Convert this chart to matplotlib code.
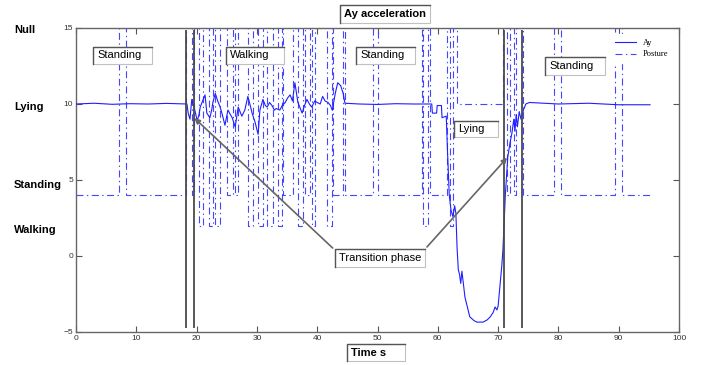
import matplotlib
matplotlib.use("Agg")
import matplotlib.pyplot as plt
from matplotlib.patches import Rectangle
from matplotlib.lines import Line2D

plt.rcParams['font.family'] = 'Liberation Sans'
plt.rcParams['lines.scale_dashes'] = False

# Ay acceleration signal (time s, value)
ay_t = [0, 3, 6, 9, 12, 15, 18.0, 18.4, 18.6, 18.9, 19.2, 19.5, 19.7, 20.1, 20.4,
        20.6, 21.1, 21.4, 21.7, 22.2, 22.5, 22.7, 23.1, 23.5, 23.9, 24.2, 24.7,
        25.2, 25.6, 25.9, 26.4, 26.9, 27.2, 27.5, 28.0, 28.5, 28.9, 29.2, 29.7,
        30.2, 30.5, 31.0, 31.4, 31.7, 32.1, 32.5, 32.9, 33.2, 33.8, 34.2, 34.7,
        35.1, 35.5, 35.9, 36.3, 36.8, 37.1, 37.5, 37.9, 38.3, 38.7, 39.1, 39.6,
        40.0, 40.5, 40.9, 41.3, 41.8, 42.2, 42.5, 43.0, 43.4, 43.9, 44.3, 44.6,
        47, 50, 53, 56, 59.0, 59.1, 59.8, 59.9, 60.6, 60.7, 61.4, 61.6, 61.9,
        62.2, 62.5, 62.8, 63.0, 63.2, 63.4, 63.6, 63.8, 64.0, 64.2, 64.5, 65.3,
        66.0, 66.5, 67.5, 68.2, 68.7, 69.2, 69.5, 69.8, 70.0, 70.3, 70.6, 70.8,
        71.2, 71.6, 72.0, 72.3, 72.6, 72.8, 73.0, 73.2, 73.5, 73.8, 74.2, 74.6,
        75.2, 80, 85, 90, 95.2]
ay_v = [10.0, 10.05, 9.98, 10.02, 10.0, 10.04, 10.0, 10.0, 9.4, 9.0, 10.3, 9.9,
        9.6, 8.9, 9.3, 9.8, 10.3, 10.6, 9.4, 9.1, 9.6, 10.1, 10.7, 10.2, 9.8,
        9.4, 8.6, 9.6, 9.3, 9.1, 8.5, 9.8, 9.5, 9.2, 9.6, 10.5, 9.9, 9.4, 8.8,
        8.0, 9.6, 10.3, 9.9, 9.8, 10.1, 9.9, 9.6, 9.7, 9.6, 9.9, 10.1, 10.4,
        10.6, 10.2, 11.4, 10.1, 9.8, 9.4, 9.9, 10.3, 10.0, 9.8, 10.2, 10.1,
        10.0, 10.5, 10.2, 10.1, 9.9, 9.6, 10.7, 11.4, 11.2, 10.7, 10.05,
        10.0, 9.97, 10.02, 10.0, 10.0, 9.4, 9.4, 9.9, 9.9, 9.1, 9.2, 7.0, 4.0,
        3.0, 2.6, 3.3, 2.8, 0.5, -0.9, -1.2, -1.8, -1.0, -1.7, -2.7, -4.0,
        -4.25, -4.35, -4.35, -4.2, -4.0, -3.7, -3.35, -3.55, -3.3, -2.0, -0.7,
        0.4, 4.0, 6.5, 7.5, 8.1, 9.0, 8.2, 9.3, 8.5, 9.5, 9.0, 9.6, 10.0,
        10.1, 10.0, 10.05, 9.95, 9.95]

# Posture state (step changes): 15 Null, 10 Lying, 4 Standing, 2 Walking
posture_t = [0, 7.1, 8.3, 18.2, 19.2, 19.6, 20.4, 21.1, 22.1, 22.7,
             23.1, 23.9, 25.0, 26.0, 26.4, 26.9, 28.5, 29.4, 30.2, 31.0,
             31.7, 32.7, 33.5, 34.2, 34.4, 36.0, 36.8, 37.6, 38.0, 38.8,
             39.1, 39.6, 41.6, 42.5, 42.6, 44.3, 44.6, 49.2, 50.0, 57.4,
             57.6, 58.4, 58.7, 61.5, 62.0, 62.5, 63.2, 70.8, 71.5, 71.9,
             72.6, 73.0, 74.1, 79.2, 80.5, 89.4, 90.5, 95.3]
posture_v = [4, 15, 4, 15, 4, 15, 2, 15, 2, 15,
             2, 15, 4, 15, 4, 15, 2, 15, 2, 15,
             2, 15, 2, 15, 4, 15, 2, 15, 4, 15,
             2, 15, 2, 15, 4, 15, 4, 15, 4, 15,
             2, 15, 4, 15, 2, 15, 10, 15, 4, 15,
             4, 15, 4, 15, 4, 15, 4, 4]

# transition markers
trans_x = [18.2, 19.6, 71.0, 74.0]

state_names = ['Null', 'Lying', 'Standing', 'Walking']
state_label_y = [14.9, 9.8, 4.7, 1.7]

W, H = 705, 365
fig = plt.figure(figsize=(W / 100, H / 100), dpi=100)
ax = fig.add_axes([76 / W, 1 - 332 / H, (679 - 76) / W, (332 - 28) / H])

ax.step(posture_t, posture_v, where='post', color='#4545ff', lw=0.8,
        dashes=(5, 2.5, 1, 2.5), label='Posture', zorder=2)
ax.plot(ay_t, ay_v, color='#1f1fff', lw=0.8, label='Ay', zorder=3)
ax.vlines(trans_x, -4.74, 14.87, color='#4a4a4a', lw=1.3, zorder=4)

ax.set_xlim(0, 100)
ax.set_ylim(-5, 15)
ax.set_xticks(range(0, 101, 10))
ax.set_yticks([-5, 0, 5, 10, 15])
ax.tick_params(direction='in', length=4, width=0.8, color='#555555',
               labelsize=6, labelcolor='#333333', top=True, right=True, pad=2)
for s in ax.spines.values():
    s.set_color('#666666')
    s.set_linewidth(1)

h, l = ax.get_legend_handles_labels()
leg = ax.legend([h[1], h[0]], [l[1], l[0]], loc='upper right',
                bbox_to_anchor=(0.998, 0.995), frameon=True, framealpha=1,
                edgecolor='white', prop={'family': 'Liberation Serif', 'size': 6},
                handlelength=2.6, borderpad=0.6, labelspacing=0.45)
leg.set_zorder(5)

# state names on the left
for name, yv in zip(state_names, state_label_y):
    ax.text(-0.103, yv, name, transform=ax.get_yaxis_transform(),
            fontsize=8, fontweight='bold', ha='left', va='center')


def box(x0, y0, x1, y1, text, bold=False, fs=8):
    rect = Rectangle((x0 / W, 1 - y1 / H), (x1 - x0) / W, (y1 - y0) / H,
                     transform=fig.transFigure, facecolor='white',
                     edgecolor='#c0c0c0', lw=0.8, zorder=6)
    fig.add_artist(rect)
    fig.add_artist(Line2D([x0 / W, x0 / W, x1 / W],
                          [1 - y1 / H, 1 - y0 / H, 1 - y0 / H],
                          transform=fig.transFigure, color='#555555',
                          lw=1.0, zorder=7))
    fig.text((x0 + 4) / W, 1 - (y0 + y1) / 2 / H, text, ha='left', va='center',
             fontsize=fs, fontweight='bold' if bold else 'normal', zorder=8)


# transition arrows
ax.annotate('', xy=(19.3, 9.2), xytext=(42.9, 0.4),
            arrowprops=dict(arrowstyle='-|>', color='#666666', lw=1.2,
                            mutation_scale=8), zorder=5)
ax.annotate('', xy=(71.8, 6.6), xytext=(57.9, 0.46),
            arrowprops=dict(arrowstyle='-|>', color='#666666', lw=1.2,
                            mutation_scale=8), zorder=5)

box(93, 47, 152, 64, 'Standing')
box(226, 47, 284, 64, 'Walking')
box(356, 47, 415, 64, 'Standing')
box(454, 121, 498, 137, 'Lying')
box(545, 57, 605, 75, 'Standing')
box(335, 249, 425, 267, 'Transition phase')
box(340, 5, 430, 23, 'Ay acceleration', bold=True, fs=8)
box(347, 344, 405, 361, 'Time s', bold=True, fs=8)

fig.savefig('out.png', dpi=100)
